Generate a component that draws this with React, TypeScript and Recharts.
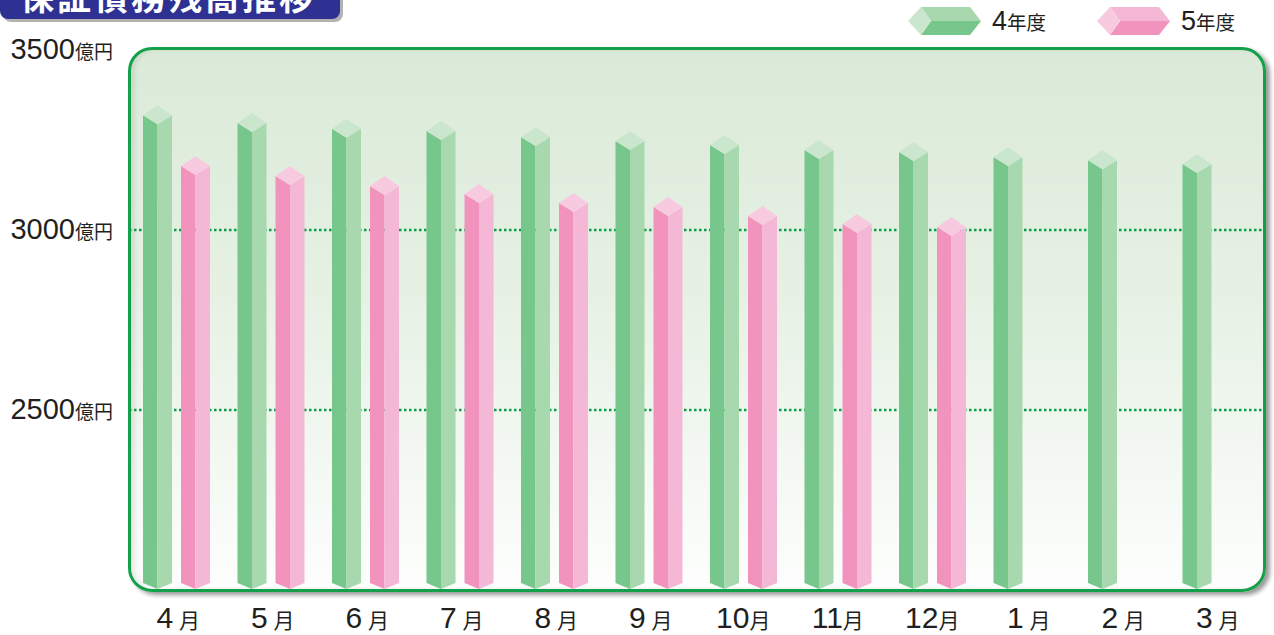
import React from 'react'
import { BarChart, Bar, XAxis, YAxis, CartesianGrid, Legend } from 'recharts'

// 保証債務残高推移（億円）
const months = ['4月', '5月', '6月', '7月', '8月', '9月', '10月', '11月', '12月', '1月', '2月', '3月']
const fy4 = [3319, 3297, 3281, 3275, 3258, 3247, 3236, 3222, 3217, 3203, 3194, 3183]
const fy5 = [3178, 3150, 3122, 3100, 3075, 3064, 3039, 3017, 3008, null, null, null]
const yTicks = [2500, 3000, 3500]
const gridValues = [2500, 3000]
const seriesNames = ['4年度', '5年度']
const title = '保証債務残高推移'

const data = months.map((m, i) => ({ month: m, fy4: fy4[i], fy5: fy5[i] }))

const FONT = "'Liberation Sans', 'Noto Sans CJK JP', sans-serif"
const TEXT = '#231f20'

const GREEN = { left: '#77c68c', right: '#a8d8ae', top: '#cae6cc' }
const PINK = { left: '#f293bd', right: '#f5b7d6', top: '#f8cae0' }
const palettes: Record<string, typeof GREEN> = { fy4: GREEN, fy5: PINK }

// 3D prism bar: value sits at the side corners of the top cap
const prism = (c: typeof GREEN) => (props: any) => {
  const { x, y, width: w, height: h } = props
  if (h == null || !w || isNaN(y)) return <g />
  const base = y + h
  const m = x + w / 2
  return (
    <g>
      <polygon points={`${x},${y} ${m},${y + 9} ${m},${base - 1} ${x},${base - 7}`} fill={c.left} />
      <polygon points={`${m},${y + 9} ${x + w},${y} ${x + w},${base - 7} ${m},${base - 1}`} fill={c.right} />
      <polygon points={`${x},${y} ${m},${y - 10} ${x + w},${y} ${m},${y + 9}`} fill={c.top} />
    </g>
  )
}

const YTick = ({ x, y, payload }: any) => (
  <text x={x} y={y + 9} textAnchor="end" fill={TEXT} fontFamily={FONT}>
    <tspan fontSize={29}>{payload.value}</tspan>
    <tspan fontSize={19}>億円</tspan>
  </text>
)

const XTick = ({ x, y, payload }: any) => {
  const num = String(payload.value).replace('月', '')
  const single = num.length === 1
  return (
    <text x={x + (single ? 2 : 0)} y={y + 38} textAnchor="middle" fill={TEXT} fontFamily={FONT}>
      <tspan fontSize={30}>{num}</tspan>
      <tspan fontSize={21} dx={single ? 6 : 0}>月</tspan>
    </text>
  )
}

const LegendContent = ({ payload }: any) => (
  <svg width={374} height={45} style={{ display: 'block' }}>
    {(payload || []).map((p: any, i: number) => {
      const c = palettes[p.dataKey] || GREEN
      const o = i * 189
      const x0 = 21 + o, x1 = 70 + o
      const label = String(p.value)
      return (
        <g key={i}>
          <polygon points={`${x0},7 ${x1},7 ${x1 + 11},21 ${x0 + 10},21`} fill={c.right} />
          <polygon points={`${x0 + 10},21 ${x1 + 11},21 ${x1},35 ${x0},35`} fill={c.left} />
          <polygon points={`${x0 - 13},21 ${x0},7 ${x0 + 10},21 ${x0},35`} fill={c.top} />
          <text x={92 + o} y={30} fill={TEXT} fontFamily={FONT}>
            <tspan fontSize={27}>{label.slice(0, 1)}</tspan>
            <tspan fontSize={19.5}>{label.slice(1)}</tspan>
          </text>
        </g>
      )
    })}
  </svg>
)

export default function App() {
  return (
    <div style={{ position: 'absolute', left: 0, top: 0, width: 1274, height: 635, overflow: 'hidden', background: '#fff' }}>
      <div
        style={{
          position: 'absolute', left: 128, top: 47, width: 1138, height: 545, boxSizing: 'border-box',
          border: '3px solid #12a04a', borderRadius: 24,
          background: 'linear-gradient(#dbead8, #e6f1e4 45%, #fdfefd)',
          boxShadow: '4px 3px 4px rgba(0,0,0,0.4), inset 4px 0 4px rgba(0,0,0,0.08)',
        }}
      />
      <div style={{ position: 'absolute', left: 0, top: 0 }}>
        <BarChart width={1274} height={635} data={data} margin={{ top: 50, right: 11, bottom: 0, left: 0 }} barSize={29} barGap={9}>
          <CartesianGrid horizontal vertical={false} horizontalValues={gridValues} stroke="#0a9e4a" strokeWidth={2.5} strokeDasharray="2.5 2.5" />
          <XAxis dataKey="month" height={45} axisLine={false} tickLine={false} tickSize={0} tickMargin={0} interval={0} tick={<XTick />} />
          <YAxis width={129} domain={[2000, 3500]} ticks={yTicks} axisLine={false} tickLine={false} tickSize={0} tickMargin={16} tick={<YTick />} />
          <Legend
            verticalAlign="middle"
            align="center"
            content={<LegendContent />}
            wrapperStyle={{ position: 'absolute', left: 900, top: 0, width: 374, height: 45 }}
          />
          <Bar dataKey="fy4" name={seriesNames[0]} fill={GREEN.left} shape={prism(GREEN)} isAnimationActive={false} />
          <Bar dataKey="fy5" name={seriesNames[1]} fill={PINK.left} shape={prism(PINK)} isAnimationActive={false} />
        </BarChart>
      </div>
      <svg width={350} height={28} style={{ position: 'absolute', left: 0, top: 0 }}>
        <rect x={3} y={-20} width={340} height={42} rx={8} fill="rgba(0,0,0,0.3)" />
        <rect x={0} y={-20} width={340} height={39} rx={8} fill="#2e3192" />
        <text x={20} y={10} fill="#fff" fontSize={34} fontWeight="bold" fontFamily="'Noto Sans CJK JP', sans-serif" textLength={293} lengthAdjust="spacing">
          {title}
        </text>
      </svg>
    </div>
  )
}
